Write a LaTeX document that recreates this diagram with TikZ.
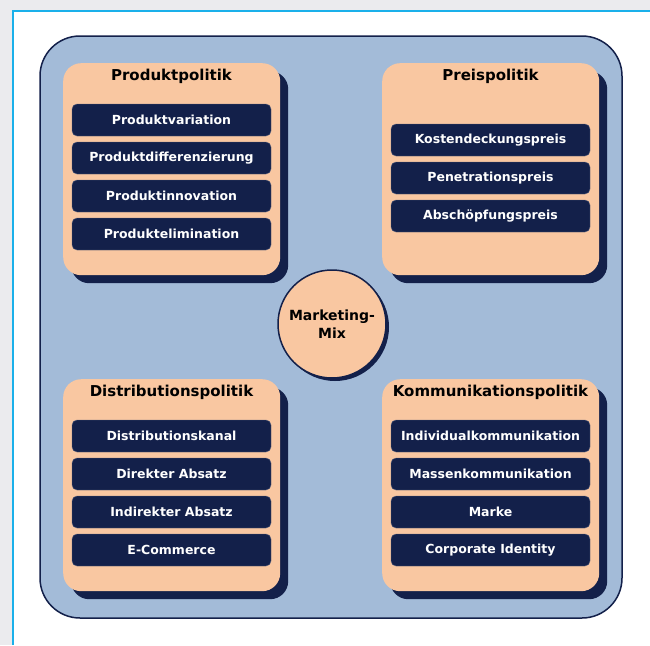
\documentclass[tikz,border=0pt]{standalone}
\usepackage{fontspec}
\setmainfont{DejaVu Sans}
\usetikzlibrary{shadows}

\definecolor{navy}{HTML}{13204A}
\definecolor{peach}{HTML}{F9C7A1}
\definecolor{steel}{HTML}{A3BBD8}
\definecolor{framecyan}{HTML}{1AB0EA}
\definecolor{pagegray}{HTML}{EBEBEE}

\begin{document}
\begin{tikzpicture}[x=1pt, y=-1pt,
    panel/.style={rectangle, rounded corners=18pt, fill=peach, minimum width=217pt, minimum height=212pt, anchor=north west,
        drop shadow={shadow xshift=8pt, shadow yshift=-8pt, fill=navy, opacity=1}},
    heading/.style={font=\bfseries\fontsize{15}{17}\selectfont, text=black},
    item/.style={rectangle, rounded corners=5pt, fill=navy, draw=navy!70!white, minimum width=199pt, minimum height=32pt,
        text=white, font=\bfseries\fontsize{12.5}{14}\selectfont}]
				\useasboundingbox (0,0) rectangle (650,645);
				% page and frame
				\fill[pagegray] (0,0) rectangle (650,645);
				\fill[white] (12,10) rectangle (650,645);
				\draw[framecyan, line width=2pt] (12.5,645) -- (12.5,10.5) -- (650,10.5);
				\draw[navy, line width=1.5pt, fill=steel, rounded corners=40pt] (40,36) rectangle (622,618);
				
				% four panels
				\node[panel] (p1) at (63,63){};
				\node[panel] (p2) at (382,63){};
				\node[panel] (p3) at (63,379){};
				\node[panel] (p4) at (382,379){};
				
				\node[heading] (produkt) at (171.5,76){Produktpolitik};
				\node[item] (a1) at (171.5,120){Produktvariation};
				\node[item] (a2) at (171.5,158){Produktdifferenzierung};
				\node[item] (a3) at (171.5,196){Produktinnovation};
				\node[item] (a4) at (171.5,234){Produktelimination};
				
				\node[heading] (preis) at (490.5,76){Preispolitik};
				\node[item] (b1) at (490.5,140){Kostendeckungspreis};
				\node[item] (b2) at (490.5,178){Penetrationspreis};
				\node[item] (b3) at (490.5,216){Abschöpfungspreis};
				
				\node[heading] (distribution) at (171.5,392){Distributionspolitik};
				\node[item] (c1) at (171.5,436){Distributionskanal};
				\node[item] (c2) at (171.5,474){Direkter Absatz};
				\node[item] (c3) at (171.5,512){Indirekter Absatz};
				\node[item] (c4) at (171.5,550){E-Commerce};
				
				\node[heading] (kommunikation) at (490.5,392){Kommunikationspolitik};
				\node[item] (d1) at (490.5,436){Individualkommunikation};
				\node[item] (d2) at (490.5,474){Massenkommunikation};
				\node[item] (d3) at (490.5,512){Marke};
				\node[item] (d4) at (490.5,550){Corporate Identity};
				
				% centre
				\node[circle, minimum size=108pt, fill=peach, draw=navy, line width=1.5pt, align=center,
				    drop shadow={shadow xshift=3pt, shadow yshift=-3pt, fill=navy, opacity=1},
				    font=\bfseries\fontsize{14}{18}\selectfont] (mix) at (332,324){Marketing-\\Mix};
\end{tikzpicture}
\end{document}
